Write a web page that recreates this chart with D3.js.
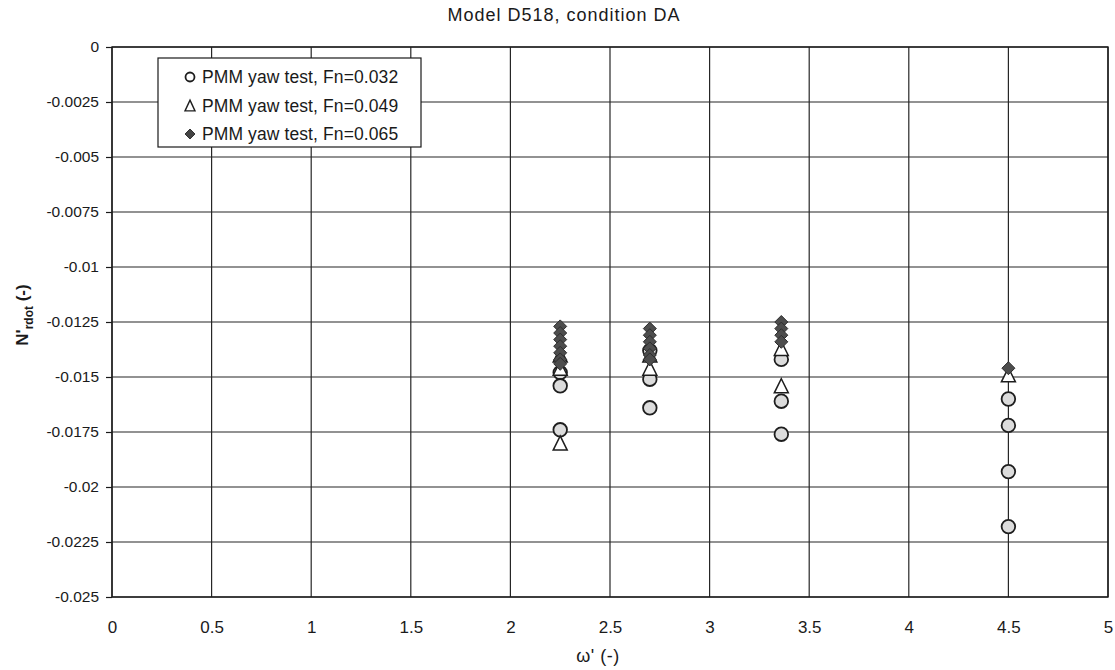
<!DOCTYPE html>
<html>
<head>
<meta charset="utf-8">
<script src="https://cdn.jsdelivr.net/npm/d3@7"></script>
<style>
  body { margin: 0; background: #fff; }
  text { font-family: "Liberation Sans", Arial, sans-serif; fill: #1a1a1a; }
</style>
</head>
<body>
<div id="chart-area"></div>
<script>
// values
var xTicks = [0, 0.5, 1, 1.5, 2, 2.5, 3, 3.5, 4, 4.5, 5];
var yTicks = [0, -0.0025, -0.005, -0.0075, -0.01, -0.0125, -0.015, -0.0175, -0.02, -0.0225, -0.025];
var yTickLabels = ["0", "-0.0025", "-0.005", "-0.0075", "-0.01", "-0.0125", "-0.015", "-0.0175", "-0.02", "-0.0225", "-0.025"];

// Fn=0.032 (circles)
var omega032 = [2.25, 2.25, 2.25, 2.70, 2.70, 2.70, 3.36, 3.36, 3.36, 4.50, 4.50, 4.50, 4.50];
var nr032 = [-0.0148, -0.0154, -0.0174, -0.0138, -0.0151, -0.0164, -0.0142, -0.0161, -0.0176, -0.0160, -0.0172, -0.0193, -0.0218];
// Fn=0.049 (triangles)
var omega049 = [2.25, 2.25, 2.25, 2.70, 2.70, 3.36, 3.36, 4.50];
var nr049 = [-0.0140, -0.0146, -0.0180, -0.0140, -0.0146, -0.0137, -0.0154, -0.0149];
// Fn=0.065 (diamonds)
var omega065 = [2.25, 2.25, 2.25, 2.25, 2.25, 2.25, 2.25, 2.70, 2.70, 2.70, 2.70, 2.70, 2.70, 3.36, 3.36, 3.36, 3.36, 4.50];
var nr065 = [-0.0127, -0.0130, -0.0133, -0.0136, -0.0139, -0.0142, -0.0144, -0.0128, -0.0131, -0.0134, -0.0137, -0.0140, -0.0142, -0.0125, -0.0128, -0.0131, -0.0134, -0.0146];

var seriesNames = ["PMM yaw test, Fn=0.032", "PMM yaw test, Fn=0.049", "PMM yaw test, Fn=0.065"];

var margin = { left: 112, right: 7, top: 47, bottom: 73 };
var width = 1115 - margin.left - margin.right,
    height = 670 - margin.top - margin.bottom;

var svg = d3.select("#chart-area").append("svg")
  .attr("width", 1115).attr("height", 670);
var g = svg.append("g")
  .attr("transform", "translate(" + margin.left + "," + margin.top + ")");

var x = d3.scaleLinear().domain([0, 5]).range([0, width]);
var y = d3.scaleLinear().domain([-0.025, 0]).range([height, 0]);

// gridlines
g.append("g").selectAll("line.v").data(xTicks).enter().append("line")
  .attr("x1", function (d) { return x(d); }).attr("x2", function (d) { return x(d); })
  .attr("y1", 0).attr("y2", height)
  .attr("stroke", "#262626").attr("stroke-width", 1.2);
g.append("g").selectAll("line.h").data(yTicks).enter().append("line")
  .attr("x1", 0).attr("x2", width)
  .attr("y1", function (d) { return y(d); }).attr("y2", function (d) { return y(d); })
  .attr("stroke", "#262626").attr("stroke-width", 1.2);
g.append("rect").attr("width", width).attr("height", height)
  .attr("fill", "none").attr("stroke", "#1a1a1a").attr("stroke-width", 1.4);

// axes
var yAxis = d3.axisLeft(y).tickValues(yTicks).tickSize(6).tickPadding(7)
  .tickFormat(function (d, i) { return yTickLabels[i]; });
var ya = g.append("g").call(yAxis);
ya.select(".domain").remove();
ya.selectAll("line").attr("stroke", "#1a1a1a").attr("stroke-width", 1.2);
ya.selectAll("text").attr("font-size", "15.5px").attr("fill", "#1a1a1a")
  .style("font-family", "'Liberation Sans', Arial, sans-serif");

var xAxis = d3.axisBottom(x).tickValues(xTicks).tickSize(0).tickPadding(24)
  .tickFormat(function (d) { return String(d); });
var xa = g.append("g").attr("transform", "translate(0," + height + ")").call(xAxis);
xa.select(".domain").remove();
xa.selectAll("text").attr("font-size", "17px").attr("fill", "#1a1a1a")
  .style("font-family", "'Liberation Sans', Arial, sans-serif");

// titles
svg.append("text").attr("x", 564).attr("y", 21).attr("text-anchor", "middle")
  .attr("font-size", "18px").attr("letter-spacing", "1px").text("Model D518, condition DA");
svg.append("text").attr("x", 598).attr("y", 662).attr("text-anchor", "middle")
  .attr("font-size", "18px").attr("letter-spacing", "0.5px").text("ω' (-)");
var yLabel = svg.append("text").attr("transform", "translate(28,315) rotate(-90)")
  .attr("text-anchor", "middle").attr("font-size", "17px").attr("font-weight", "bold");
yLabel.append("tspan").text("N'");
yLabel.append("tspan").attr("font-size", "12px").attr("dy", 5).text("rdot");
yLabel.append("tspan").attr("dy", -5).text(" (-)");

// marker shapes
function trianglePath(s) {
  var h = s * Math.sqrt(3) / 2;
  return "M0," + (-h / 2 - 1) + "L" + (s / 2) + "," + (h / 2 + 1) + "L" + (-s / 2) + "," + (h / 2 + 1) + "Z";
}
function diamondPath(r) {
  return "M0," + (-r) + "L" + r + ",0L0," + r + "L" + (-r) + ",0Z";
}

function drawCircles(sel, xs, ys, r) {
  sel.selectAll("circle").data(d3.zip(xs, ys)).enter().append("circle")
    .attr("cx", function (d) { return x(d[0]); })
    .attr("cy", function (d) { return y(d[1]); })
    .attr("r", r).attr("fill", "#dcdcdc").attr("stroke", "#1e1e1e").attr("stroke-width", 1.8);
}
function drawTriangles(sel, xs, ys, s) {
  sel.selectAll("path").data(d3.zip(xs, ys)).enter().append("path")
    .attr("d", trianglePath(s))
    .attr("transform", function (d) { return "translate(" + x(d[0]) + "," + y(d[1]) + ")"; })
    .attr("fill", "#fff").attr("stroke", "#1e1e1e").attr("stroke-width", 1.5);
}
function drawDiamonds(sel, xs, ys, r) {
  sel.selectAll("path").data(d3.zip(xs, ys)).enter().append("path")
    .attr("d", diamondPath(r))
    .attr("transform", function (d) { return "translate(" + x(d[0]) + "," + y(d[1]) + ")"; })
    .attr("fill", "#4d4d4d").attr("stroke", "#2e2e2e").attr("stroke-width", 1);
}

drawCircles(g.append("g"), omega032, nr032, 6.8);
drawTriangles(g.append("g"), omega049, nr049, 14);
drawDiamonds(g.append("g"), omega065, nr065, 6.5);

// legend
var legend = svg.append("g").attr("transform", "translate(158,58)");
legend.append("rect").attr("width", 263).attr("height", 89)
  .attr("fill", "#fff").attr("stroke", "#1a1a1a").attr("stroke-width", 1.2);
seriesNames.forEach(function (name, i) {
  var row = legend.append("g").attr("transform", "translate(32," + (19 + i * 28.5) + ")");
  if (i === 0) {
    row.append("circle").attr("r", 4.5).attr("fill", "#fff").attr("stroke", "#1e1e1e").attr("stroke-width", 1.8);
  } else if (i === 1) {
    row.append("path").attr("d", trianglePath(10)).attr("fill", "#fff").attr("stroke", "#1e1e1e").attr("stroke-width", 1.4);
  } else {
    row.append("path").attr("d", diamondPath(5)).attr("fill", "#444").attr("stroke", "#333");
  }
  row.append("text").attr("x", 12).attr("y", 6).attr("font-size", "17.5px")
    .attr("letter-spacing", "0.1px").text(name);
});
</script>
</body>
</html>
